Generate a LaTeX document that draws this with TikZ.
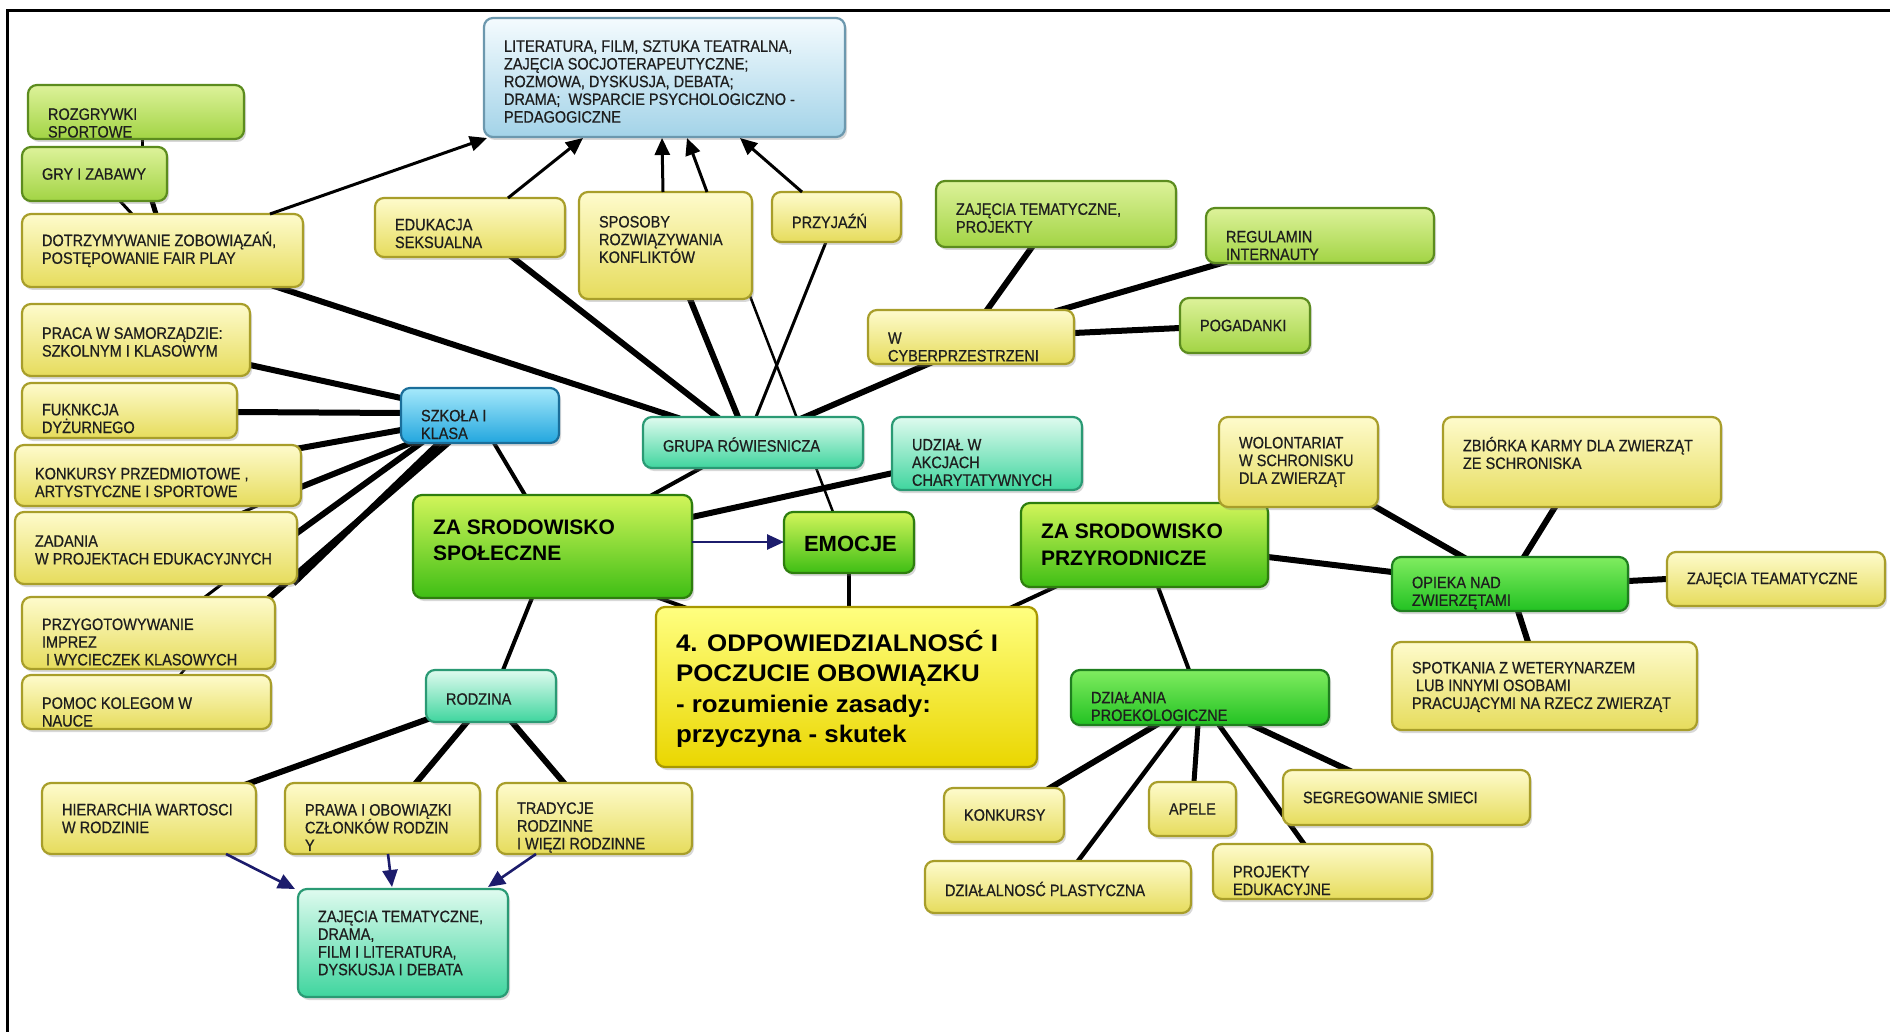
\documentclass[tikz,border=0pt]{standalone}
\usepackage{fontspec}
\setmainfont{Liberation Sans}
\newfontfamily\smf{Liberation Sans}[FakeStretch=0.88, FakeBold=0.6]
\newfontfamily\odpf{Liberation Sans}[FakeStretch=1.08]
\usetikzlibrary{arrows.meta,shadows,backgrounds,calc}

\definecolor{txtc}{HTML}{1E1E1E}
\definecolor{yelT}{HTML}{FEFBCC}
\definecolor{yelD}{HTML}{E6DC5C}
\definecolor{yelB}{HTML}{A89E2A}
\definecolor{grnT}{HTML}{DDF29A}
\definecolor{grnD}{HTML}{A2D444}
\definecolor{grnB}{HTML}{5C8C1E}
\definecolor{tealT}{HTML}{DFFBEF}
\definecolor{tealD}{HTML}{3FD59E}
\definecolor{tealB}{HTML}{2A9A74}
\definecolor{szkT}{HTML}{A6E9FB}
\definecolor{szkD}{HTML}{22A6DE}
\definecolor{szkB}{HTML}{1A6E9A}
\definecolor{litT}{HTML}{F4FBFE}
\definecolor{litD}{HTML}{A3D3E8}
\definecolor{litB}{HTML}{6C98AE}
\definecolor{bgT}{HTML}{D2F55A}
\definecolor{bgD}{HTML}{3EBE14}
\definecolor{bgB}{HTML}{2E7E0E}
\definecolor{brT}{HTML}{80EC60}
\definecolor{brD}{HTML}{22C222}
\definecolor{brB}{HTML}{1F7F1F}
\definecolor{odpT}{HTML}{FFFF80}
\definecolor{odpD}{HTML}{EAD600}
\definecolor{odpB}{HTML}{A89800}
\definecolor{navy}{HTML}{1C1C6C}

\tikzset{
  box/.style={rectangle, rounded corners=9pt, line width=2.2pt, inner sep=0pt, outer sep=0pt,
    drop shadow={opacity=0.3, shadow xshift=2pt, shadow yshift=-3pt}},
  yel/.style={box, draw=yelB, top color=yelT, bottom color=yelD},
  grn/.style={box, draw=grnB, top color=grnT, bottom color=grnD},
  teal/.style={box, draw=tealB, top color=tealT, bottom color=tealD},
  szkc/.style={box, draw=szkB, top color=szkT, bottom color=szkD},
  litc/.style={box, draw=litB, top color=litT, bottom color=litD},
  biggrn/.style={box, draw=bgB, top color=bgT, bottom color=bgD},
  brgrn/.style={box, draw=brB, top color=brT, bottom color=brD},
  odpc/.style={box, draw=odpB, top color=odpT, bottom color=odpD},
  txt/.style={inner sep=0pt, outer sep=0pt, align=left, anchor=west, text=txtc,
    font=\smf\fontsize{16.5}{17.7}\selectfont},
  bigtxt/.style={txt, text=black, font=\bfseries\fontsize{21}{26.5}\selectfont},
  emtxt/.style={txt, text=black, font=\bfseries\fontsize{22}{26}\selectfont},
  odptxt/.style={txt, text=black, font=\odpf\bfseries\fontsize{24}{30.5}\selectfont},
  conn/.style={line cap=butt, shorten <=-5pt, shorten >=-5pt},
  cthick/.style={conn, line width=6pt},
  cmed/.style={conn, line width=4pt},
  cthin/.style={conn, line width=2.5pt},
  arr/.style={line width=3pt, -{Triangle[length=17pt,width=15pt]}},
  narr/.style={line width=2.6pt, draw=navy, -{Triangle[length=17pt,width=15pt,fill=navy]}},
}

\newcommand\MapBox[9]{%
  \node[#2, minimum width={(#5-#3)*1pt}, minimum height={(#6-#4)*1pt}] (#1) at ({(#3+#5)/2},{(#4+#6)/2}) {};
  \node[#8] (#1t) at ([shift={(20,#7)}]#1.west) {#9};}

\begin{document}
\begin{tikzpicture}[x=1pt,y=-1pt]
\useasboundingbox (0,0) rectangle (1890,1032);
\begin{scope}[on background layer]
  \fill[white] (0,0) rectangle (1890,1032);
\end{scope}

\MapBox{lit}{litc}{484}{18}{845}{137}{4}{txt}{LITERATURA, FILM, SZTUKA TEATRALNA,\\ZAJĘCIA SOCJOTERAPEUTYCZNE;\\ROZMOWA, DYSKUSJA, DEBATA;\\DRAMA;\ \ WSPARCIE PSYCHOLOGICZNO -\\PEDAGOGICZNE}
\MapBox{rozg}{grn}{28}{85}{244}{139}{11}{txt}{ROZGRYWKI\\SPORTOWE}
\MapBox{gry}{grn}{22}{147}{167}{201}{0}{txt}{GRY I ZABAWY}
\MapBox{dotrz}{yel}{22}{214}{303}{287}{-1}{txt}{DOTRZYMYWANIE ZOBOWIĄZAŃ,\\POSTĘPOWANIE FAIR PLAY}
\MapBox{edu}{yel}{375}{198}{565}{257}{6}{txt}{EDUKACJA\\SEKSUALNA}
\MapBox{spos}{yel}{579}{192}{752}{299}{-6}{txt}{SPOSOBY\\ROZWIĄZYWANIA\\KONFLIKTÓW}
\MapBox{przyj}{yel}{772}{192}{901}{242}{4}{txt}{PRZYJAŹŃ}
\MapBox{zajproj}{grn}{936}{181}{1176}{247}{4}{txt}{ZAJĘCIA TEMATYCZNE,\\PROJEKTY}
\MapBox{regul}{grn}{1206}{208}{1434}{263}{10}{txt}{REGULAMIN\\INTERNAUTY}
\MapBox{wcyb}{yel}{868}{310}{1074}{364}{10}{txt}{W\\CYBERPRZESTRZENI}
\MapBox{pogad}{grn}{1180}{298}{1310}{353}{0}{txt}{POGADANKI}
\MapBox{praca}{yel}{22}{304}{250}{376}{2}{txt}{PRACA W SAMORZĄDZIE:\\SZKOLNYM I KLASOWYM}
\MapBox{fukn}{yel}{22}{383}{237}{438}{8}{txt}{FUKNKCJA\\DYŻURNEGO}
\MapBox{szk}{szkc}{401}{388}{559}{443}{9}{txt}{SZKOŁA I\\KLASA}
\MapBox{grupa}{teal}{643}{417}{863}{468}{2}{txt}{GRUPA RÓWIESNICZA}
\MapBox{udz}{teal}{892}{417}{1082}{490}{9}{txt}{UDZIAŁ W\\AKCJACH\\CHARYTATYWNYCH}
\MapBox{konkp}{yel}{15}{445}{301}{506}{7}{txt}{KONKURSY PRZEDMIOTOWE ,\\ARTYSTYCZNE I SPORTOWE}
\MapBox{spol}{biggrn}{413}{495}{692}{598}{-6}{bigtxt}{ZA SRODOWISKO\\SPOŁECZNE}
\MapBox{emoc}{biggrn}{784}{512}{914}{573}{1}{emtxt}{EMOCJE}
\MapBox{zad}{yel}{15}{512}{297}{584}{2}{txt}{ZADANIA\\W PROJEKTACH EDUKACYJNYCH}
\MapBox{przyr}{biggrn}{1021}{503}{1268}{587}{0}{bigtxt}{ZA SRODOWISKO\\PRZYRODNICZE}
\MapBox{wolont}{yel}{1219}{417}{1378}{507}{0}{txt}{WOLONTARIAT\\W SCHRONISKU\\DLA ZWIERZĄT}
\MapBox{zbior}{yel}{1443}{417}{1721}{507}{-9}{txt}{ZBIÓRKA KARMY DLA ZWIERZĄT\\ZE SCHRONISKA}
\MapBox{opieka}{brgrn}{1392}{557}{1628}{611}{9}{txt}{OPIEKA NAD\\ZWIERZĘTAMI}
\MapBox{zajteam}{yel}{1667}{552}{1885}{606}{1}{txt}{ZAJĘCIA TEAMATYCZNE}
\MapBox{przyg}{yel}{22}{597}{275}{669}{9}{txt}{PRZYGOTOWYWANIE\\IMPREZ\\\hspace{4pt}I WYCIECZEK KLASOWYCH}
\MapBox{odp}{odpc}{656}{607}{1037}{767}{2}{odptxt}{4. ODPOWIEDZIALNOSĆ I\\POCZUCIE OBOWIĄZKU\\- rozumienie zasady:\\przyczyna - skutek}
\MapBox{spotk}{yel}{1392}{642}{1697}{730}{1}{txt}{SPOTKANIA Z WETERYNARZEM\\\hspace{4pt}LUB INNYMI OSOBAMI\\PRACUJĄCYMI NA RZECZ ZWIERZĄT}
\MapBox{pomoc}{yel}{22}{675}{271}{729}{10}{txt}{POMOC KOLEGOM W\\NAUCE}
\MapBox{rodz}{teal}{426}{670}{556}{722}{3}{txt}{RODZINA}
\MapBox{dzial}{brgrn}{1071}{670}{1329}{725}{9}{txt}{DZIAŁANIA\\PROEKOLOGICZNE}
\MapBox{hier}{yel}{42}{783}{256}{854}{0}{txt}{HIERARCHIA WARTOSCI\\W RODZINIE}
\MapBox{prawa}{yel}{285}{783}{480}{854}{9}{txt}{PRAWA I OBOWIĄZKI\\CZŁONKÓW RODZIN\\Y}
\MapBox{trad}{yel}{497}{783}{692}{854}{9}{txt}{TRADYCJE\\RODZINNE\\I WIĘZI RODZINNE}
\MapBox{zajdr}{teal}{298}{889}{508}{997}{0}{txt}{ZAJĘCIA TEMATYCZNE,\\DRAMA,\\FILM I LITERATURA,\\DYSKUSJA I DEBATA}
\MapBox{konk}{yel}{944}{788}{1064}{842}{0}{txt}{KONKURSY}
\MapBox{apele}{yel}{1149}{782}{1236}{836}{0}{txt}{APELE}
\MapBox{segr}{yel}{1283}{770}{1530}{825}{0}{txt}{SEGREGOWANIE SMIECI}
\MapBox{dzplast}{yel}{925}{861}{1191}{913}{2}{txt}{DZIAŁALNOSĆ PLASTYCZNA}
\MapBox{projedu}{yel}{1213}{844}{1432}{899}{9}{txt}{PROJEKTY\\EDUKACYJNE}

\begin{scope}[on background layer]
  % peer group
  \draw[cthick] ([shift={(255,73)}]dotrz.north west) -- ([shift={(32,0)}]grupa.north west);
  \draw[cthick] ([shift={(137,59)}]edu.north west) -- ([shift={(74,0)}]grupa.north west);
  \draw[cthick] ([shift={(111,107)}]spos.north west) -- ([shift={(95,0)}]grupa.north west);
  \draw[cthin] ([shift={(171,104)}]spos.north west) -- ([shift={(49,0)}]emoc.north west);
  \draw[conn, line width=3pt] ([shift={(54,50)}]przyj.north west) -- ([shift={(113,0)}]grupa.north west);
  \draw[cthick] ([shift={(60,54)}]wcyb.north west) -- ([shift={(162,0)}]grupa.north west);
  \draw[cmed] ([shift={(58,51)}]grupa.north west) -- ([shift={(239,0)}]spol.north west);
  \draw[cthick] ([shift={(1,56)}]udz.north west) -- ([shift={(279,22)}]spol.north west);
  \draw[cmed] ([shift={(93,55)}]szk.north west) -- ([shift={(112,0)}]spol.north west);
  % centre
  \draw[cmed] ([shift={(65,61)}]emoc.north west) -- ([shift={(193,0)}]odp.north west);
  \draw[cmed] ([shift={(246,103)}]spol.north west) -- ([shift={(28,0)}]odp.north west);
  \draw[cmed] ([shift={(34,84)}]przyr.north west) -- ([shift={(356,0)}]odp.north west);
  \draw[cmed] ([shift={(119,103)}]spol.north west) -- ([shift={(77,0)}]rodz.north west);
  % school
  \draw[cthick] ([shift={(228,61)}]praca.north west) -- ([shift={(0,10)}]szk.north west);
  \draw[cthick] ([shift={(215,29)}]fukn.north west) -- ([shift={(0,25)}]szk.north west);
  \draw[cthick] ([shift={(286,3)}]konkp.north west) -- ([shift={(0,42)}]szk.north west);
  \draw[cthick] ([shift={(286,42)}]konkp.north west) -- ([shift={(10,55)}]szk.north west);
  \draw[cthick] ([shift={(282,21)}]zad.north west) -- ([shift={(20,55)}]szk.north west);
  \draw[cthick] ([shift={(282,68)}]zad.north west) -- ([shift={(38,55)}]szk.north west);
  \draw[cthick] ([shift={(248,0)}]przyg.north west) -- ([shift={(47,55)}]szk.north west);
  % hidden chains in the left column
  \draw[conn, line width=3pt] ([shift={(114,54)}]rozg.north west) -- ([shift={(120,0)}]gry.north west);
  \draw[conn, line width=3pt] ([shift={(98,54)}]gry.north west) -- ([shift={(110,0)}]dotrz.north west);
  \draw[conn, line width=5pt] ([shift={(130,54)}]gry.north west) -- ([shift={(134,0)}]dotrz.north west);
  \draw[conn, line width=3pt] ([shift={(242,61)}]konkp.north west) -- ([shift={(228,0)}]zad.north west);
  \draw[conn, line width=3pt] ([shift={(207,72)}]zad.north west) -- ([shift={(183,0)}]przyg.north west);
  \draw[conn, line width=2.5pt] ([shift={(163,72)}]przyg.north west) -- ([shift={(158,0)}]pomoc.north west);
  % cyberspace
  \draw[cthick] ([shift={(119,0)}]wcyb.north west) -- ([shift={(96,66)}]zajproj.north west);
  \draw[cthick] ([shift={(192,0)}]wcyb.north west) -- ([shift={(16,55)}]regul.north west);
  \draw[cthick] ([shift={(206,23)}]wcyb.north west) -- ([shift={(0,30)}]pogad.north west);
  % family
  \draw[cthick] ([shift={(2,49)}]rodz.north west) -- ([shift={(208,0)}]hier.north west);
  \draw[cthick] ([shift={(41,52)}]rodz.north west) -- ([shift={(131,0)}]prawa.north west);
  \draw[cthick] ([shift={(86,52)}]rodz.north west) -- ([shift={(67,0)}]trad.north west);
  % nature
  \draw[cthick] ([shift={(247,54)}]przyr.north west) -- ([shift={(0,15)}]opieka.north west);
  \draw[cmed] ([shift={(137,84)}]przyr.north west) -- ([shift={(118,0)}]dzial.north west);
  \draw[cthick] ([shift={(155,89)}]wolont.north west) -- ([shift={(71,0)}]opieka.north west);
  \draw[cthick] ([shift={(112,90)}]zbior.north west) -- ([shift={(132,0)}]opieka.north west);
  \draw[cthick] ([shift={(126,54)}]opieka.north west) -- ([shift={(136,0)}]spotk.north west);
  \draw[cthick] ([shift={(236,24)}]opieka.north west) -- ([shift={(0,27)}]zajteam.north west);
  \draw[cthick] ([shift={(85,55)}]dzial.north west) -- ([shift={(106,0)}]konk.north west);
  \draw[conn, line width=4.5pt] ([shift={(109,55)}]dzial.north west) -- ([shift={(153,0)}]dzplast.north west);
  \draw[conn, line width=5pt] ([shift={(127,55)}]dzial.north west) -- ([shift={(45,0)}]apele.north west);
  \draw[conn, line width=5pt] ([shift={(148,55)}]dzial.north west) -- ([shift={(91,0)}]projedu.north west);
  \draw[cthick] ([shift={(181,55)}]dzial.north west) -- ([shift={(65,0)}]segr.north west);
\end{scope}

% arrows into the top box
\draw[arr] ([shift={(248,0)}]dotrz.north west) -- ([shift={(3,120)}]lit.north west);
\draw[arr] ([shift={(133,0)}]edu.north west) -- ([shift={(99,120)}]lit.north west);
\draw[arr] ([shift={(84,0)}]spos.north west) -- ([shift={(178,120)}]lit.north west);
\draw[arr] ([shift={(128,0)}]spos.north west) -- ([shift={(203,120)}]lit.north west);
\draw[arr] ([shift={(30,0)}]przyj.north west) -- ([shift={(256,120)}]lit.north west);
% navy arrows
\draw[narr] ([shift={(279,47)}]spol.north west) -- ([shift={(0,30)}]emoc.north west);
\draw[narr] ([shift={(184,71)}]hier.north west) -- ([shift={(-3,0)}]zajdr.north west);
\draw[narr] ([shift={(103,71)}]prawa.north west) -- ([shift={(94,-2)}]zajdr.north west);
\draw[narr] ([shift={(39,71)}]trad.north west) -- ([shift={(190,-2)}]zajdr.north west);

% frame
\draw[line width=3pt] (7,1032) -- (7,11) -- (1890,11);
\end{tikzpicture}
\end{document}
